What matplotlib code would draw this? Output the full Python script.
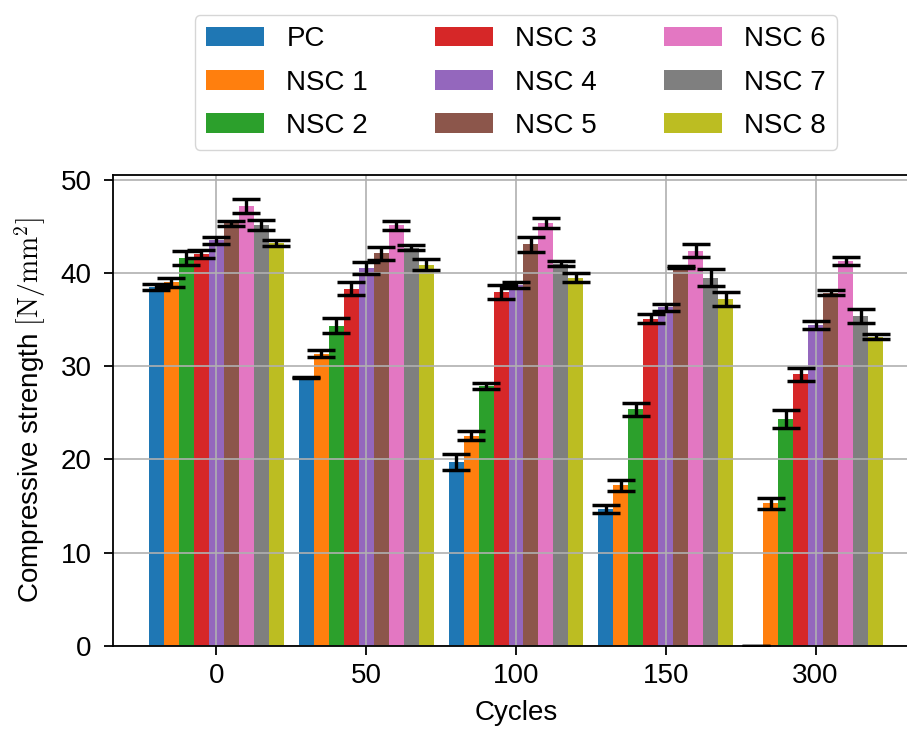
import numpy as np
import matplotlib
matplotlib.use("Agg")
import matplotlib.pyplot as plt

plt.rcParams['font.family'] = ['Liberation Sans', 'DejaVu Sans']
plt.rcParams['mathtext.fontset'] = 'cm'
plt.rcParams['font.size'] = 20

# data
cycles = ['0', '50', '100', '150', '300']
series = ['PC', 'NSC 1', 'NSC 2', 'NSC 3', 'NSC 4', 'NSC 5', 'NSC 6', 'NSC 7', 'NSC 8']

pc   = [38.5, 28.8, 19.7, 14.7, 0.0]
nsc1 = [39.0, 31.35, 22.55, 17.25, 15.3]
nsc2 = [41.6, 34.35, 27.9, 25.4, 24.35]
nsc3 = [42.05, 38.3, 37.95, 35.1, 29.15]
nsc4 = [43.5, 40.55, 38.7, 36.3, 34.4]
nsc5 = [45.3, 42.1, 43.05, 40.6, 37.9]
nsc6 = [47.2, 45.1, 45.35, 42.4, 41.25]
nsc7 = [45.1, 42.7, 41.0, 39.5, 35.35]
nsc8 = [43.2, 40.9, 39.5, 37.2, 33.15]

pc_err   = [0.35, 0.05, 0.85, 0.45, 0.0]
nsc1_err = [0.5, 0.4, 0.45, 0.6, 0.6]
nsc2_err = [0.7, 0.8, 0.35, 0.7, 0.95]
nsc3_err = [0.45, 0.7, 0.75, 0.45, 0.7]
nsc4_err = [0.35, 0.65, 0.3, 0.35, 0.45]
nsc5_err = [0.25, 0.7, 0.85, 0.1, 0.3]
nsc6_err = [0.75, 0.45, 0.55, 0.7, 0.45]
nsc7_err = [0.55, 0.25, 0.25, 0.9, 0.75]
nsc8_err = [0.3, 0.55, 0.45, 0.75, 0.25]

values = [pc, nsc1, nsc2, nsc3, nsc4, nsc5, nsc6, nsc7, nsc8]
errors = [pc_err, nsc1_err, nsc2_err, nsc3_err, nsc4_err,
          nsc5_err, nsc6_err, nsc7_err, nsc8_err]

fig = plt.figure(figsize=(9.07, 7.30), dpi=100)
ax = fig.add_axes([113/907, 84/730, 806/907, 471/730])

x = np.arange(len(cycles))
width = 0.1
for i, (name, v, e) in enumerate(zip(series, values, errors)):
    ax.bar(x + (i - 4) * width, v, width, label=name,
           yerr=e, capsize=10,
           error_kw=dict(elinewidth=2.4, capthick=2.5, ecolor='black'))

ax.set_xticks(x)
ax.set_xticklabels(cycles)
ax.set_xlim(-0.69, 4.69)
ax.set_ylim(0, 50.5)
ax.set_yticks([0, 10, 20, 30, 40, 50])
ax.grid(True, color='#b0b0b0', linewidth=1.2)
ax.tick_params(length=6.5, width=1.3, pad=6)
ax.tick_params(axis='y', pad=9)
for s in ax.spines.values():
    s.set_linewidth(1.3)

ax.set_xlabel('Cycles', labelpad=8)
ax.set_ylabel(r'Compressive strength $[\mathrm{N}/\mathrm{mm}^2]$', labelpad=9)

ax.legend(ncol=3, loc='lower center', bbox_to_anchor=(0.5, 1.053),
          borderaxespad=0, handlelength=2.1, handletextpad=0.8,
          columnspacing=2.4, labelspacing=0.62)

fig.savefig('out.png', dpi=100)
